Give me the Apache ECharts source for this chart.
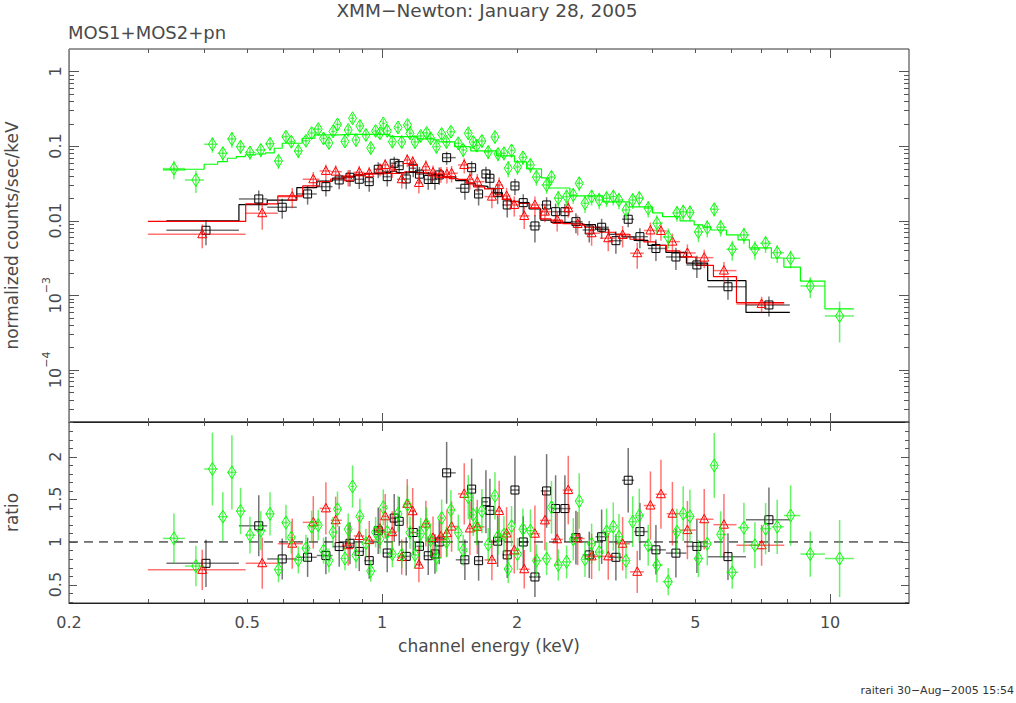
<!DOCTYPE html>
<html><head><meta charset="utf-8">
<script src="https://cdn.jsdelivr.net/npm/echarts@6/dist/echarts.min.js"></script>
<style>html,body{margin:0;padding:0;background:#fff}#c{width:1016px;height:703px}</style>
</head><body><div id="c"></div>
<script>
// ---------------- DATA ----------------
// pn (green diamonds): bin centre energy (keV), data (counts/s/keV), model, fractional error
const greenE = [0.343,0.384,0.418,0.441,0.462,0.483,0.507,0.536,0.562,0.587,0.610,0.627,0.650,0.676,0.696,0.720,0.740,0.761,0.777,0.795,0.826,0.840,0.859,0.874,0.892,0.920,0.943,0.967,0.989,1.006,1.027,1.054,1.085,1.106,1.139,1.154,1.184,1.219,1.257,1.283,1.322,1.358,1.392,1.424,1.479,1.517,1.557,1.597,1.625,1.670,1.725,1.786,1.814,1.870,1.912,1.945,2.005,2.062,2.143,2.210,2.329,2.388,2.473,2.581,2.671,2.754,2.837,2.935,3.052,3.170,3.281,3.378,3.502,3.625,3.750,3.926,4.106,4.351,4.550,4.700,4.865,5.082,5.318,5.513,5.697,6.046,6.421,6.794,7.178,7.618,8.162,9.030,10.50];
const greenF = [0.0498,0.0351,0.1057,0.0801,0.1245,0.0982,0.0821,0.0887,0.1074,0.0631,0.1337,0.1146,0.0860,0.1178,0.1498,0.1685,0.1264,0.1101,0.1569,0.1948,0.1153,0.1643,0.2359,0.1207,0.1860,0.1410,0.0943,0.1594,0.1484,0.2009,0.1594,0.1146,0.1776,0.1135,0.1918,0.1484,0.1135,0.1366,0.1498,0.1272,0.0982,0.1453,0.1135,0.1560,0.1090,0.0887,0.1484,0.1135,0.1019,0.1171,0.0834,0.1324,0.0783,0.0801,0.0504,0.0873,0.0525,0.0704,0.0558,0.0385,0.0301,0.0385,0.0200,0.0210,0.0221,0.0317,0.0171,0.0210,0.0189,0.0200,0.0210,0.0189,0.0139,0.0189,0.0200,0.01466,0.00923,0.00605,0.01268,0.01320,0.01288,0.00706,0.00806,0.01422,0.00816,0.00414,0.00643,0.00414,0.00498,0.00372,0.00313,0.00133,0.000528];
const greenModel = [0.0478,0.0489,0.0570,0.0618,0.0686,0.0721,0.0760,0.0783,0.0808,0.0934,0.1090,0.1090,0.1090,0.1272,0.1272,0.1408,0.1408,0.1408,0.1408,0.1408,0.1430,0.1430,0.1430,0.1430,0.1430,0.1430,0.1430,0.1430,0.1430,0.1430,0.1430,0.1337,0.1337,0.1337,0.1337,0.1337,0.1337,0.1245,0.1245,0.1245,0.1207,0.1135,0.1135,0.1135,0.0982,0.0982,0.0973,0.0860,0.0860,0.0860,0.0860,0.0860,0.0737,0.0737,0.0737,0.0737,0.0612,0.0612,0.0493,0.0493,0.0374,0.0274,0.0274,0.0274,0.02144,0.02144,0.02144,0.02144,0.02144,0.01781,0.01781,0.01781,0.01781,0.01527,0.01527,0.01527,0.01268,0.01131,0.01131,0.00991,0.00991,0.00876,0.00823,0.00750,0.00750,0.00643,0.00551,0.00431,0.00431,0.00316,0.00239,0.00155,0.000655];
const greenErr = [0.28,0.33,0.23,0.22,0.24,0.20,0.20,0.20,0.19,0.22,0.17,0.18,0.20,0.17,0.16,0.15,0.17,0.18,0.16,0.15,0.17,0.16,0.15,0.18,0.16,0.17,0.19,0.16,0.17,0.15,0.16,0.18,0.16,0.18,0.16,0.17,0.19,0.17,0.17,0.18,0.20,0.17,0.18,0.17,0.19,0.20,0.17,0.19,0.19,0.19,0.20,0.18,0.20,0.20,0.24,0.20,0.22,0.21,0.22,0.24,0.24,0.22,0.25,0.25,0.24,0.22,0.26,0.24,0.25,0.24,0.24,0.25,0.27,0.24,0.24,0.25,0.28,0.30,0.24,0.24,0.24,0.27,0.26,0.20,0.25,0.30,0.25,0.28,0.26,0.27,0.27,0.31,0.56];
const greenFirstEdge = 0.324, greenLastEdge = 11.3;

// MOS2 (red triangles)
const redE = [0.3967,0.540,0.630,0.702,0.749,0.7876,0.840,0.889,0.936,0.989,1.016,1.053,1.106,1.138,1.170,1.208,1.252,1.299,1.353,1.395,1.429,1.525,1.570,1.631,1.758,1.825,1.896,1.972,2.076,2.193,2.309,2.459,2.603,2.732,2.935,3.197,3.442,3.711,3.971,4.192,4.446,4.802,5.236,5.794,7.032];
const redF = [0.00657,0.01257,0.0210,0.0359,0.0464,0.0454,0.0382,0.0445,0.0432,0.0489,0.0558,0.0478,0.0359,0.0651,0.0612,0.0320,0.0530,0.0443,0.0423,0.0419,0.0432,0.0558,0.0359,0.0333,0.0210,0.0301,0.02144,0.01623,0.01156,0.01623,0.0132,0.01022,0.01466,0.00903,0.00678,0.00581,0.00643,0.00366,0.00739,0.00728,0.00523,0.00369,0.00319,0.00214,0.000765];
const redModel = [0.00976,0.01674,0.02144,0.0292,0.0333,0.0362,0.0397,0.0416,0.0423,0.0423,0.0429,0.0429,0.0436,0.0450,0.0450,0.0436,0.0436,0.0423,0.0397,0.0380,0.0366,0.0357,0.0310,0.0283,0.0266,0.0221,0.0195,0.0180,0.0170,0.0148,0.01054,0.00991,0.00912,0.00868,0.00816,0.00699,0.00657,0.00563,0.00518,0.00467,0.00393,0.00324,0.00252,0.00178,0.000796];
const redErr = [0.35,0.40,0.30,0.25,0.22,0.22,0.25,0.22,0.22,0.20,0.20,0.22,0.25,0.20,0.20,0.28,0.22,0.24,0.24,0.25,0.25,0.23,0.27,0.27,0.30,0.26,0.28,0.30,0.33,0.30,0.28,0.30,0.25,0.30,0.32,0.33,0.32,0.38,0.28,0.26,0.28,0.30,0.28,0.30,0.25];
const redEdges = [0.30,0.496,0.585,0.665,0.725,0.768,0.813,0.864,0.912,0.962,1.002,1.034,1.079,1.122,1.154,1.189,1.230,1.275,1.326,1.374,1.412,1.476,1.547,1.600,1.693,1.791,1.860,1.934,2.023,2.134,2.250,2.383,2.530,2.667,2.832,3.063,3.317,3.574,3.839,4.080,4.317,4.621,5.014,5.49,6.18,7.9];

// MOS1 (black squares)
const blackE = [0.4044,0.5304,0.5984,0.6818,0.749,0.8020,0.8477,0.8891,0.9358,0.9802,1.0266,1.0641,1.0917,1.1318,1.1734,1.2114,1.2675,1.3119,1.3412,1.3932,1.530,1.5841,1.6421,1.7049,1.7403,1.8107,1.9022,1.9791,2.0654,2.1933,2.3289,2.4392,2.5586,2.7079,2.8998,3.0903,3.3251,3.5424,3.762,4.085,4.5268,5.042,5.9157,7.3018];
const blackF = [0.00743,0.01954,0.01512,0.02280,0.02856,0.03512,0.03818,0.03589,0.03333,0.04887,0.03889,0.05880,0.05461,0.03622,0.05040,0.04201,0.03567,0.03567,0.04099,0.06993,0.02719,0.05134,0.02280,0.04227,0.03701,0.02373,0.01623,0.02919,0.01743,0.00849,0.01623,0.01320,0.01320,0.00970,0.00750,0.00816,0.00539,0.01044,0.00610,0.00424,0.00326,0.00255,0.00130,0.000741];
const blackModel = [0.00991,0.01643,0.01888,0.02778,0.03395,0.03712,0.03878,0.04036,0.04266,0.04318,0.04468,0.04595,0.04398,0.04358,0.04538,0.04427,0.04253,0.04150,0.04099,0.03865,0.03437,0.03171,0.02919,0.02874,0.02702,0.02351,0.01912,0.01815,0.01743,0.01439,0.01016,0.00949,0.00949,0.00923,0.00884,0.00769,0.00657,0.00606,0.00544,0.00467,0.00375,0.00269,0.00157,0.000588];
const blackErr = [0.37,0.30,0.30,0.28,0.26,0.25,0.25,0.26,0.27,0.24,0.26,0.22,0.23,0.27,0.24,0.25,0.27,0.27,0.26,0.20,0.30,0.22,0.30,0.25,0.27,0.30,0.32,0.25,0.30,0.40,0.27,0.28,0.28,0.30,0.32,0.30,0.33,0.22,0.30,0.32,0.33,0.33,0.33,0.30];
const blackEdges = [0.33,0.479,0.554,0.645,0.7146,0.775,0.8245,0.868,0.912,0.958,1.003,1.045,1.078,1.112,1.152,1.192,1.239,1.290,1.326,1.367,1.460,1.557,1.613,1.673,1.722,1.775,1.856,1.940,2.022,2.128,2.260,2.383,2.498,2.632,2.802,2.994,3.206,3.432,3.651,3.920,4.300,4.778,5.33,6.49,8.13];

// axis tick labels and tick positions
const xTickValues = [0.2,0.5,1,2,5,10];
const xTickLabels = ['0.2','0.5','1','2','5','10'];
const xMajorTicks = [1,10];
const xMinorTicks = [0.3,0.4,0.5,0.6,0.7,0.8,0.9,2,3,4,5,6,7,8,9];
const yTickValues = [1e-4,1e-3,0.01,0.1,1];
const yTickLabels = ['{b|10}{s|−4}','{b|10}{s|−3}','0.01','0.1','1'];
const rTickValues = [0.5,1,1.5,2];
const rTickLabels = ['0.5','1','1.5','2'];
const rMinorTicks = [0.3,0.4,0.6,0.7,0.8,0.9,1.1,1.2,1.3,1.4,1.6,1.7,1.8,1.9,2.1,2.2,2.3,2.4];

// ---------------- BUILD ----------------
const L = Math.log10;
const X_MIN = L(0.2), X_MAX = L(15);
const Y_MIN = L(2e-5), Y_MAX = L(2);
const R_MIN = 0.285, R_MAX = 2.405;

function centreEdges(E, lo, hi){
  const ed=[lo];
  for(let i=0;i<E.length-1;i++) ed.push(Math.sqrt(E[i]*E[i+1]));
  ed.push(hi); return ed;
}
const greenEdges = centreEdges(greenE, greenFirstEdge, greenLastEdge);

function topData(E,F,err,ed){ return E.map((e,i)=>[L(e),L(F[i]),L(ed[i]),L(ed[i+1]),L(F[i]*(1-err[i])),L(F[i]*(1+err[i]))]); }
function ratioData(E,F,M,err,ed){ return E.map((e,i)=>{const r=F[i]/M[i]; return [L(e),r,L(ed[i]),L(ed[i+1]),r*(1-err[i]),r*(1+err[i])];}); }
function stepData(M,ed){ const out=[]; M.forEach((m,i)=>{out.push([L(ed[i]),L(m)]); out.push([L(ed[i+1]),L(m)]);}); return out; }

const xMaj=xMajorTicks.map(L), xMin=xMinorTicks.map(L);
const yMaj=yTickValues.map(L);
const yMin=[]; for(let d=-5; d<=0; d++){ for(let k=2;k<=9;k++){ const lv=L(k*Math.pow(10,d)); if(lv>Y_MIN+1e-6 && lv<Y_MAX-1e-6) yMin.push(lv);} }

const FONT='DejaVu Sans';
const TXT='#4a4a4a';
const TICK='#555';

function findLabel(vals, labels, v, isLog){
  for(let i=0;i<vals.length;i++){ const t=isLog?L(vals[i]):vals[i]; if(Math.abs(t-v)<1e-6) return labels[i]; }
  return '';
}

const xAxes=[
  {type:'value',gridIndex:0,position:'bottom',min:X_MIN,max:X_MAX,splitLine:{show:false},
   axisLine:{show:true,onZero:false,lineStyle:{color:'#222',width:1}},axisTick:{show:false},axisLabel:{show:false}},
  {type:'value',gridIndex:1,position:'bottom',min:X_MIN,max:X_MAX,splitLine:{show:false},
   axisLine:{show:true,onZero:false,lineStyle:{color:'#222',width:1}},axisTick:{show:false},
   axisLabel:{show:true,customValues:xTickValues.map(L),margin:11,color:TXT,fontFamily:FONT,fontSize:16,
     formatter:v=>findLabel(xTickValues,xTickLabels,v,true)},
   name:'channel energy (keV)',nameLocation:'middle',nameGap:34,
   nameTextStyle:{color:TXT,fontFamily:FONT,fontSize:17}}
];
const yAxes=[
  {type:'value',gridIndex:0,position:'left',min:Y_MIN,max:Y_MAX,splitLine:{show:false},
   axisLine:{show:true,onZero:false,lineStyle:{color:'#888',width:1}},axisTick:{show:false},
   axisLabel:{show:true,rotate:90,margin:6,color:TXT,fontFamily:FONT,fontSize:16,customValues:yMaj,
     formatter:v=>findLabel(yTickValues,yTickLabels,v,true),
     rich:{b:{fontFamily:FONT,fontSize:16,color:TXT,lineHeight:22,verticalAlign:'bottom'},
           s:{fontFamily:FONT,fontSize:11,color:TXT,lineHeight:12,verticalAlign:'top'}}},
   name:'normalized counts/sec/keV',nameLocation:'middle',nameGap:49,nameRotate:90,
   nameTextStyle:{color:TXT,fontFamily:FONT,fontSize:17}},
  {type:'value',gridIndex:1,position:'left',min:R_MIN,max:R_MAX,splitLine:{show:false},
   axisLine:{show:true,onZero:false,lineStyle:{color:'#888',width:1}},axisTick:{show:false},
   axisLabel:{show:true,rotate:90,margin:6,color:TXT,fontFamily:FONT,fontSize:16,customValues:rTickValues,
     formatter:v=>findLabel(rTickValues,rTickLabels,v,false)},
   name:'ratio',nameLocation:'middle',nameGap:49,nameRotate:90,
   nameTextStyle:{color:TXT,fontFamily:FONT,fontSize:17}}
];

// tick marks on all four sides of a panel, placed through the axes' own scales
function tickRender(yLo,yHi,yMajT,yMinT,yMajLen,yMinLen){
  return function(params,api){
    const p0=api.coord([X_MIN,yLo]), p1=api.coord([X_MAX,yHi]);
    const left=p0[0], right=p1[0], bottom=p0[1], top=p1[1];
    const st={stroke:TICK,lineWidth:1};
    const ch=[];
    function xt(v,len){ const x=Math.round(api.coord([v,yLo])[0])+0.5;
      ch.push({type:'line',shape:{x1:x,y1:bottom,x2:x,y2:bottom-len},style:st});
      ch.push({type:'line',shape:{x1:x,y1:top,x2:x,y2:top+len},style:st}); }
    function yt(v,len){ const y=Math.round(api.coord([X_MIN,v])[1])+0.5;
      ch.push({type:'line',shape:{x1:left,y1:y,x2:left+len,y2:y},style:st});
      ch.push({type:'line',shape:{x1:right,y1:y,x2:right-len,y2:y},style:st}); }
    xMaj.forEach(v=>xt(v,9)); xMin.forEach(v=>xt(v,4));
    yMajT.forEach(v=>yt(v,yMajLen)); yMinT.forEach(v=>yt(v,yMinLen));
    return {type:'group',children:ch};
  };
}

function makeRender(shape,color,barColor){
  return function(params,api){
    const x=api.value(0), y=api.value(1);
    const p=api.coord([x,y]);
    const a=api.coord([api.value(2),y]), b=api.coord([api.value(3),y]);
    const c=api.coord([x,api.value(4)]), d=api.coord([x,api.value(5)]);
    const bar={stroke:barColor,lineWidth:1.5,fill:'none'};
    const mk={stroke:color,lineWidth:1,fill:'none'};
    const ch=[
      {type:'line',shape:{x1:a[0],y1:a[1],x2:b[0],y2:b[1]},style:bar},
      {type:'line',shape:{x1:c[0],y1:c[1],x2:d[0],y2:d[1]},style:bar}
    ];
    if(shape==='square') ch.push({type:'rect',shape:{x:p[0]-4,y:p[1]-4,width:8,height:8},style:mk});
    else if(shape==='triangle') ch.push({type:'polygon',shape:{points:[[p[0],p[1]-5],[p[0]+4.5,p[1]+3.5],[p[0]-4.5,p[1]+3.5]]},style:mk});
    else ch.push({type:'polygon',shape:{points:[[p[0],p[1]-6.5],[p[0]+4,p[1]],[p[0],p[1]+6.5],[p[0]-4,p[1]]]},style:mk});
    return {type:'group',children:ch};
  };
}

const inst=[
  {name:'MOS1',E:blackE,F:blackF,M:blackModel,err:blackErr,ed:blackEdges,shape:'square',color:'#000000',bar:'rgba(0,0,0,0.55)'},
  {name:'MOS2',E:redE,F:redF,M:redModel,err:redErr,ed:redEdges,shape:'triangle',color:'#ff0000',bar:'rgba(255,0,0,0.55)'},
  {name:'pn',E:greenE,F:greenF,M:greenModel,err:greenErr,ed:greenEdges,shape:'diamond',color:'#00ff00',bar:'rgba(0,235,0,0.6)'}
];

const series=[];
series.push({type:'custom',name:'ticks top',xAxisIndex:0,yAxisIndex:0,clip:false,silent:true,z:10,
  renderItem:tickRender(Y_MIN,Y_MAX,yMaj,yMin,10,5),encode:{x:0,y:1},data:[[X_MIN,Y_MIN]]});
series.push({type:'custom',name:'ticks ratio',xAxisIndex:1,yAxisIndex:1,clip:false,silent:true,z:10,
  renderItem:tickRender(R_MIN,R_MAX,rTickValues,rMinorTicks,8,4),encode:{x:0,y:1},data:[[X_MIN,R_MIN]]});
inst.forEach((s,k)=>{
  series.push({type:'line',name:s.name+' model',xAxisIndex:0,yAxisIndex:0,data:stepData(s.M,s.ed),
    symbol:'none',showSymbol:false,lineStyle:{color:s.color,width:1.2},z:2+k,clip:true,silent:true});
});
inst.forEach((s,k)=>{
  series.push({type:'custom',name:s.name,xAxisIndex:0,yAxisIndex:0,clip:true,z:5+k,
    renderItem:makeRender(s.shape,s.color,s.bar),encode:{x:0,y:1},data:topData(s.E,s.F,s.err,s.ed)});
});
series.push({type:'line',name:'unity',xAxisIndex:1,yAxisIndex:1,data:[[X_MIN,1],[X_MAX,1]],symbol:'none',
  lineStyle:{color:'#000',width:1,type:[9,6]},z:2,silent:true});
inst.forEach((s,k)=>{
  series.push({type:'custom',name:s.name+' ratio',xAxisIndex:1,yAxisIndex:1,clip:true,z:5+k,
    renderItem:makeRender(s.shape,s.color,s.bar),encode:{x:0,y:1},data:ratioData(s.E,s.F,s.M,s.err,s.ed)});
});

const chart=echarts.init(document.getElementById('c'),null,{renderer:'svg'});
chart.setOption({
  animation:false,
  backgroundColor:'#ffffff',
  title:[
    {text:'XMM−Newton: January 28, 2005',left:487,top:1,textAlign:'center',padding:0,
      textStyle:{fontFamily:FONT,fontSize:18.5,fontWeight:'normal',color:TXT}},
    {text:'MOS1+MOS2+pn',left:68,top:23,padding:0,
      textStyle:{fontFamily:FONT,fontSize:18,fontWeight:'normal',color:TXT}},
    {text:'raiteri 30−Aug−2005 15:54',right:2,top:685,padding:0,
      textStyle:{fontFamily:FONT,fontSize:11,fontWeight:'normal',color:'#333'}}
  ],
  grid:[
    {left:69,top:49,width:840,height:373,show:true,borderColor:'#333',borderWidth:1,containLabel:false,outerBoundsMode:'none'},
    {left:69,top:422,width:840,height:181,show:true,borderColor:'#333',borderWidth:1,containLabel:false,outerBoundsMode:'none'}
  ],
  xAxis:xAxes,
  yAxis:yAxes,
  series:series
});
</script>
</body></html>
